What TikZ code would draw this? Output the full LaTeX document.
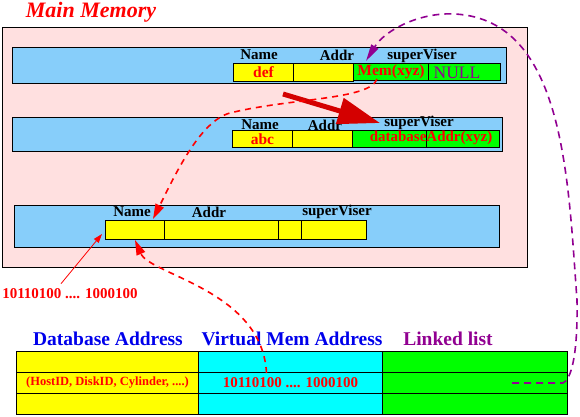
\documentclass[tikz,border=0pt]{standalone}
\usepackage{fontspec}
\setmainfont{Liberation Serif}
\usetikzlibrary{arrows.meta,calc,positioning}
\definecolor{memPink}{RGB}{255,224,224}
\definecolor{barBlue}{RGB}{135,206,250}
\definecolor{darkRed}{RGB}{212,0,0}
\definecolor{lnkPurple}{RGB}{145,0,145}
\definecolor{hdBlue}{RGB}{0,0,235}
\definecolor{vmCyan}{RGB}{0,255,255}
\definecolor{llGreen}{RGB}{0,255,0}
\definecolor{dbYellow}{RGB}{255,255,0}

\begin{document}
\begin{tikzpicture}[x=1pt,y=-1pt,
	box/.style={draw,line width=1pt,inner sep=0,anchor=north west},
	bar/.style={box,fill=barBlue},
	ycell/.style={box,fill=dbYellow,text=red,font=\bfseries\fontsize{15.5}{15.5}\selectfont},
	gcell/.style={box,fill=llGreen,text=red,font=\bfseries\fontsize{15.5}{15.5}\selectfont},
	fld/.style={inner sep=0,font=\bfseries\fontsize{15}{15}\selectfont},
	hdr/.style={inner sep=0,font=\bfseries\fontsize{19.5}{19.5}\selectfont},
	num/.style={inner sep=0,text=red,font=\bfseries\fontsize{15}{15}\selectfont},
	ptr/.style={red,dash pattern=on 6pt off 5pt,line width=1.6pt,
		-{Triangle[length=15pt,width=9pt]}},
	lnk/.style={lnkPurple,dash pattern=on 7pt off 5pt,line width=1.6pt,
		-{Triangle[length=17pt,width=8pt]}}]
	\useasboundingbox (0,0) rectangle (580,416);
	\node[inner sep=0,text=red,font=\bfseries\itshape\fontsize{22}{22}\selectfont] (title) at (91,12) {Main Memory};
	\node[box,fill=memPink,minimum width=525pt,minimum height=240pt] (mem) at (2,27) {};

	\node[bar,minimum width=494pt,minimum height=36pt] (b1) at (12,47) {};
	\node[ycell,minimum width=60pt,minimum height=18pt] (c11) at (233,63) {def};
	\node[ycell,minimum width=60pt,minimum height=18pt] (c12) at (293,63) {};
	\node[gcell,minimum width=75pt,minimum height=17pt] (c13) at (353,63) {Mem(xyz)};
	\node[gcell,minimum width=72pt,minimum height=17pt] (c14) at (428,63) {};
	\node[inner sep=0,text=lnkPurple,font=\fontsize{17.5}{17.5}\selectfont] (null1) at (457,73) {NULL};
	\node[fld] (n1) at (259,55) {Name};
	\node[fld] (a1) at (337,55) {Addr};
	\node[fld] (s1) at (422,56) {superViser};

	\node[bar,minimum width=490pt,minimum height=34pt] (b2) at (12,117) {};
	\node[ycell,minimum width=60pt,minimum height=17pt] (c21) at (232,130) {abc};
	\node[ycell,minimum width=60pt,minimum height=17pt] (c22) at (292,130) {};
	\node[gcell,minimum width=74pt,minimum height=17pt] (c23) at (352,130) {};
	\node[gcell,minimum width=73pt,minimum height=17pt] (c24) at (426,130) {};
	\node[inner sep=0,text=red,font=\bfseries\fontsize{15}{15}\selectfont] (dba) at (431,138) {databaseAddr(xyz)};
	\node[fld] (n2) at (260,125) {Name};
	\node[fld] (a2) at (325,125) {Addr};
	\node[fld] (s2) at (419,123) {superViser};

	\node[bar,minimum width=485pt,minimum height=42pt] (b3) at (14,205) {};
	\node[ycell,minimum width=59pt,minimum height=19pt] (c31) at (105,220) {};
	\node[ycell,minimum width=114pt,minimum height=19pt] (c32) at (164,220) {};
	\node[ycell,minimum width=23pt,minimum height=19pt] (c33) at (278,220) {};
	\node[ycell,minimum width=65pt,minimum height=19pt] (c34) at (301,220) {};
	\node[fld] (n3) at (132,212) {Name};
	\node[fld] (a3) at (209,212) {Addr};
	\node[fld] (s3) at (337,212) {superViser};

	\node[num] (bits) at (70,294) {10110100 .... 1000100};

	\node[hdr,text=hdBlue] (hdb) at (108,339) {Database Address};
	\node[hdr,text=hdBlue] (hvm) at (292,339) {Virtual Mem Address};
	\node[hdr,text=lnkPurple] (hll) at (448,339) {Linked list};
	\node[box,fill=dbYellow,minimum width=182pt,minimum height=21pt] (db1) at (16,351) {};
	\node[box,fill=vmCyan,minimum width=184pt,minimum height=21pt] (vm1) at (198,351) {};
	\node[box,fill=llGreen,minimum width=185pt,minimum height=21pt] (ll1) at (382,351) {};
	\node[box,fill=dbYellow,minimum width=182pt,minimum height=21pt,text=red,
		font=\bfseries\fontsize{12.5}{12.5}\selectfont] (db2) at (16,372) {(HostID, DiskID, Cylinder, ....)};
	\node[box,fill=vmCyan,minimum width=184pt,minimum height=21pt,text=red,
		font=\bfseries\fontsize{15}{15}\selectfont] (vm2) at (198,372) {10110100 .... 1000100};
	\node[box,fill=llGreen,minimum width=185pt,minimum height=21pt] (ll2) at (382,372) {};
	\node[box,fill=dbYellow,minimum width=182pt,minimum height=21pt] (db3) at (16,393) {};
	\node[box,fill=vmCyan,minimum width=184pt,minimum height=21pt] (vm3) at (198,393) {};
	\node[box,fill=llGreen,minimum width=185pt,minimum height=21pt] (ll3) at (382,393) {};

	\coordinate (bigS) at (283,94);
	\coordinate (bigE) at (380,123);
	\draw[darkRed,line width=5pt,-{Triangle[length=42pt,width=26pt]}] (bigS) -- (bigE);

	\draw[red,line width=0.8pt,-{Triangle[length=9pt,width=6pt]}]
		($(bits.north)+(-9,-5)$) -- ($(c31.south west)+(-3,-6)$);
	\draw[ptr] ($(c13.center)+(-14,7)$) .. controls (370,100) and (290,98) .. (230,113)
		.. controls (200,121) and (175,175) .. ($(c31.north east)+(-12,-1)$);
	\draw[ptr] ($(vm2.north)+(-24,1)$) .. controls (262,290) and (150,275) .. (c31.south);
	\draw[lnk] ($(ll2.center)+(37,0)$) -- (563,383) .. controls (570,380) and (578,360) .. (577,300)
		.. controls (568,180) and (565,20) .. (455,14)
		.. controls (420,12) and (385,30) .. ($(c13.north west)+(13,-2)$);
\end{tikzpicture}
\end{document}
